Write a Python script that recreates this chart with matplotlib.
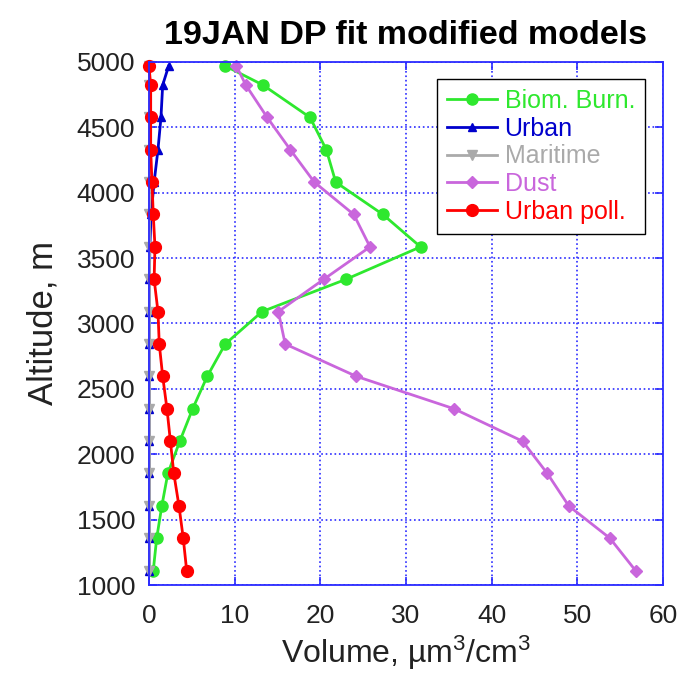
import matplotlib
matplotlib.use('Agg')
import matplotlib.pyplot as plt

# altitude levels (m), top to bottom
altitude = [4970, 4824, 4576, 4329, 4081, 3834, 3586, 3338, 3091,
            2843, 2596, 2348, 2100, 1853, 1605, 1358, 1110]

# volume concentrations, um^3/cm^3
biom_burn = [8.9, 13.3, 18.8, 20.7, 21.8, 27.3, 31.7, 23.0, 13.2,
             8.9, 6.8, 5.1, 3.6, 2.2, 1.5, 0.9, 0.5]
urban = [2.3, 1.6, 1.4, 1.05, 0.6, 0.25, 0.1, 0.05, 0.05,
         0.05, 0.05, 0.05, 0.05, 0.05, 0.05, 0.05, 0.05]
maritime = [0.0, 0.0, 0.0, 0.0, 0.0, 0.0, 0.0, 0.0, 0.0,
            0.0, 0.0, 0.0, 0.0, 0.0, 0.0, 0.0, 0.0]
dust = [10.2, 11.3, 13.8, 16.5, 19.3, 23.9, 25.8, 20.4, 15.1,
        15.9, 24.2, 35.6, 43.6, 46.5, 49.0, 53.8, 56.8]
urban_poll = [0.0, 0.2, 0.2, 0.2, 0.35, 0.5, 0.7, 0.6, 1.05,
              1.2, 1.6, 2.1, 2.5, 2.9, 3.5, 4.0, 4.4]

x_ticks = [0, 10, 20, 30, 40, 50, 60]
y_ticks = [1000, 1500, 2000, 2500, 3000, 3500, 4000, 4500, 5000]

plt.rcParams['font.family'] = ['Liberation Sans', 'DejaVu Sans']
plt.rcParams['mathtext.default'] = 'regular'

axis_blue = '#2b2bff'

fig = plt.figure(figsize=(6.84, 6.76), dpi=100)
ax = fig.add_axes([0.2178, 0.1346, 0.7515, 0.7737])

ax.plot(biom_burn, altitude, color='#2ee82e', lw=2, marker='o', ms=8,
        label='Biom. Burn.', clip_on=False)
ax.plot(urban, altitude, color='#0000cc', lw=2, marker='^', ms=6,
        label='Urban', clip_on=False)
ax.plot(maritime, altitude, color='#aaaaaa', lw=2, marker='v', ms=7,
        label='Maritime', clip_on=False)
ax.plot(dust, altitude, color='#c966dc', lw=2, marker='D', ms=6.5,
        label='Dust', clip_on=False)
ax.plot(urban_poll, altitude, color='#ff0000', lw=2, marker='o', ms=8.5,
        label='Urban poll.', clip_on=False)

ax.set_xlim(0, 60)
ax.set_ylim(1000, 5000)
ax.set_xticks(x_ticks)
ax.set_yticks(y_ticks)
ax.grid(True, color=axis_blue, linestyle=':', linewidth=1.2)
for sp in ax.spines.values():
    sp.set_color(axis_blue)
    sp.set_linewidth(1.3)
ax.tick_params(direction='in', length=6, width=1.2, color=axis_blue,
               top=True, right=True, labelsize=19, labelcolor='#222222')
ax.tick_params(axis='x', pad=14)
ax.tick_params(axis='y', pad=10)

ax.set_title('19JAN DP fit modified models', fontsize=24.5, fontweight='bold', pad=13)
ax.set_xlabel('Volume, \u00b5m$^3$/cm$^3$', fontsize=23, color='#222222', labelpad=4)
ax.set_ylabel('Altitude, m', fontsize=25, color='#222222', labelpad=12)

leg = ax.legend(loc='upper right', bbox_to_anchor=(0.965, 0.9675), borderaxespad=0,
                fontsize=18, labelcolor='linecolor', fancybox=False, framealpha=1,
                edgecolor='black', handlelength=2.0, handletextpad=0.3,
                labelspacing=0.15, borderpad=0.4)
leg.get_frame().set_linewidth(1.0)

plt.savefig('out.png', dpi=100)
plt.close()
